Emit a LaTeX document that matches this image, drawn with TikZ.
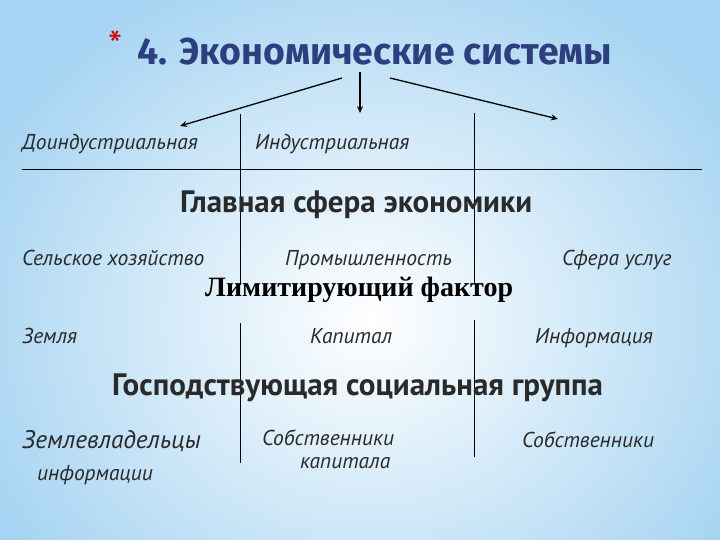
\documentclass[tikz,border=0pt]{standalone}
\usepackage{fontspec}
\setmainfont{PT Sans}
\newfontfamily\headfont{PT Sans}
\newfontfamily\titlefont{Fira Sans}
\newfontfamily\serifbold{Liberation Serif}
\definecolor{bgblue}{HTML}{A6D4F2}
\definecolor{titleblue}{HTML}{2E3F80}
\definecolor{txt}{HTML}{2A2A2A}
\tikzset{
  lbl/.style={anchor=base west, inner sep=0pt, text=txt, font=\fontsize{21.5}{24}\selectfont\itshape},
  head/.style={anchor=base west, inner sep=0pt, text=txt, font=\headfont\fontsize{31}{34}\selectfont\bfseries},
  rule/.style={line width=0.9pt, black},
  arr/.style={line width=1.3pt, -{Stealth[length=7pt,width=6pt]}}
}
\usetikzlibrary{arrows.meta}
\begin{document}
\begin{tikzpicture}[x=1pt,y=-1pt]
\useasboundingbox (0,0) rectangle (720,540);
\fill[bgblue] (0,0) rectangle (720,540);
\shade[inner color=white, outer color=bgblue] (370,320) ellipse (430 and 380);
% title
\node[anchor=base west, inner sep=0pt, text=red!80!black, font=\fontsize{40}{40}\selectfont] (ast) at (108,60) {*};
\node[anchor=base west, inner sep=0pt, text=titleblue, font=\titlefont\fontsize{37.4}{42}\selectfont\bfseries] (title) at (137,65) {4. Экономические системы};
\coordinate (aL1) at (342,78); \coordinate (aL2) at (180,126);
\coordinate (aM1) at (360,72); \coordinate (aM2) at (360,113);
\coordinate (aR1) at (390,78); \coordinate (aR2) at (558,119);
\draw[arr] (aL1) -- (aL2);
\draw[arr] (aM1) -- (aM2);
\draw[arr] (aR1) -- (aR2);
% rules
\coordinate (h1) at (22,169); \coordinate (h2) at (702,169);
\draw[rule] (h1) -- (h2);
\coordinate (v1a) at (240,114); \coordinate (v1b) at (240,285);
\coordinate (v1c) at (240,323); \coordinate (v1d) at (240,463);
\coordinate (v2a) at (474,113); \coordinate (v2b) at (474,283);
\coordinate (v2c) at (474,320); \coordinate (v2d) at (474,457);
\draw[rule] (v1a) -- (v1b);
\draw[rule] (v1c) -- (v1d);
\draw[rule] (v2a) -- (v2b);
\draw[rule] (v2c) -- (v2d);
% row 1
\node[lbl] (pre) at (22,150) {Доиндустриальная};
\node[lbl] (ind) at (255,150) {Индустриальная};
% main sphere
\node[head] (h1t) at (180,212) {Главная сфера экономики};
\node[lbl] (agr) at (22,265) {Сельское хозяйство};
\node[lbl] (prom) at (285,265) {Промышленность};
\node[lbl] (serv) at (562,265) {Сфера услуг};
\node[anchor=base west, inner sep=0pt, text=black, font=\serifbold\fontsize{28}{32}\selectfont\bfseries] (lim) at (205,296) {Лимитирующий фактор};
\node[lbl] (land) at (22,343) {Земля};
\node[lbl] (cap) at (310,343) {Капитал};
\node[lbl] (info) at (535,343) {Информация};
\node[head] (grp) at (112,395) {Господствующая социальная группа};
\node[lbl, font=\fontsize{25.4}{28}\selectfont\itshape] (own1) at (22,448) {Землевладельцы};
\node[lbl] (own1b) at (37,480) {информации};
\node[lbl] (own2) at (262,445) {Собственники};
\node[lbl] (own2b) at (300,468) {капитала};
\node[lbl] (own3) at (522,447) {Собственники};
\end{tikzpicture}
\end{document}
